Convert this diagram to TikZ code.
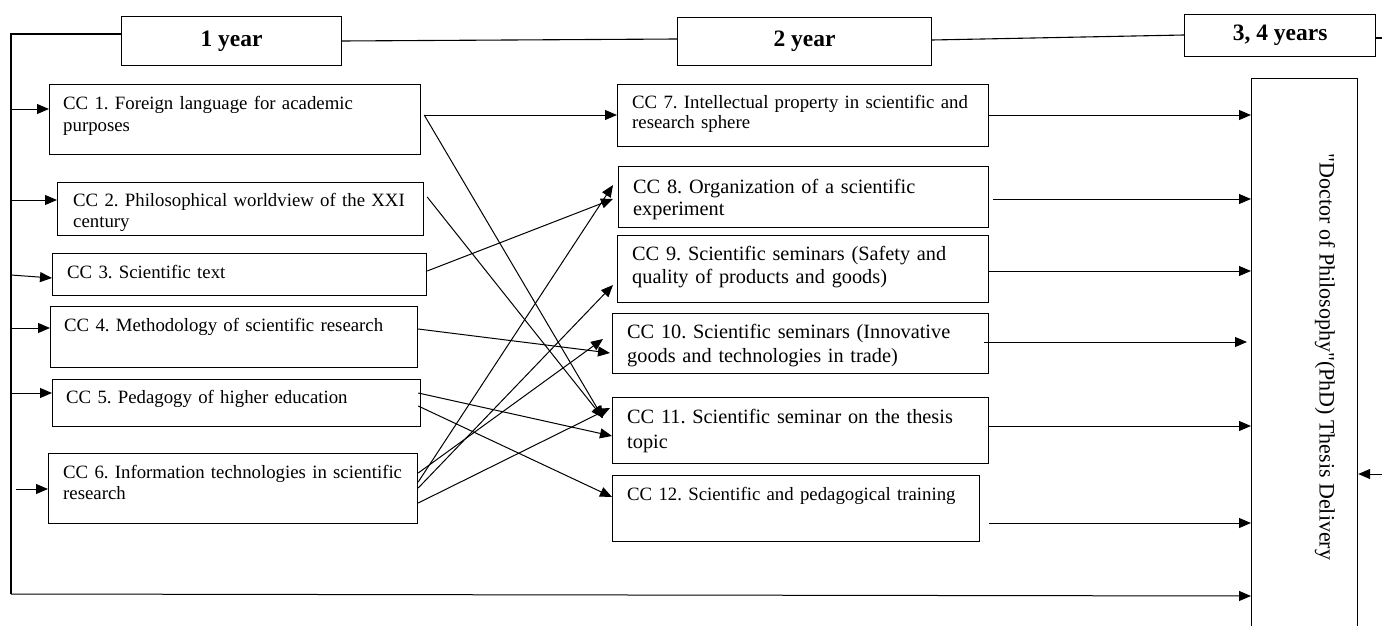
\documentclass[tikz,border=0pt]{standalone}
\usepackage{fontspec}
\setmainfont{Liberation Serif}[Ligatures=TeXOff]
\usetikzlibrary{arrows.meta,calc}
\frenchspacing
\newcommand\fsz[2]{\fontsize{#1}{#2}\selectfont}
\tikzset{
  box/.style={draw, line width=1.2pt, inner sep=0pt, anchor=north west},
  yearbox/.style={draw, line width=1.2pt, inner sep=0pt, anchor=north west, font=\fsz{23.5}{28}\bfseries},
  cc/.style={anchor=base west, inner sep=0pt, text width=365pt, align=left, execute at begin node=\frenchspacing},
  conn/.style={line width=1pt, -{Triangle[length=12pt,width=10pt]}},
  frame/.style={line width=1.1pt},
}
\begin{document}
\begin{tikzpicture}[x=1pt,y=-1pt]
\useasboundingbox (0,0) rectangle (1382,626);
\clip (0,0) rectangle (1382,626);
\fill[white] (0,0) rectangle (1382,626);
% year boxes
\node[yearbox, minimum width=220pt, minimum height=49pt] (y1) at (121,16) {1 year};
\node[yearbox, minimum width=254pt, minimum height=48pt] (y2) at (677,17) {2 year};
\node[yearbox, minimum width=191pt, minimum height=42pt] (y34) at (1184,14) {3, 4 years};
% left boxes
\node[box, minimum width=371pt, minimum height=70pt] (c1) at (49,84) {};
\node[box, minimum width=366pt, minimum height=53pt] (c2) at (57,182) {};
\node[box, minimum width=374pt, minimum height=42pt] (c3) at (52,253) {};
\node[box, minimum width=367pt, minimum height=61pt] (c4) at (50,306) {};
\node[box, minimum width=368pt, minimum height=47pt] (c5) at (52,379) {};
\node[box, minimum width=369pt, minimum height=70pt] (c6) at (48,453) {};
% middle boxes
\node[box, minimum width=371pt, minimum height=62pt] (c7) at (617,84) {};
\node[box, minimum width=370pt, minimum height=61pt] (c8) at (618,166) {};
\node[box, minimum width=371pt, minimum height=67pt] (c9) at (617,235) {};
\node[box, minimum width=376pt, minimum height=60pt] (c10) at (612,313) {};
\node[box, minimum width=376pt, minimum height=66pt] (c11) at (612,397) {};
\node[box, minimum width=367pt, minimum height=66pt] (c12) at (612,475) {};
% final box
\node[box, minimum width=106pt, minimum height=600pt] (phd) at (1251,78) {};
\node[rotate=-90, inner sep=0pt, font=\fsz{22}{26}] (phdt) at (1325,357) {"Doctor of Philosophy"(PhD) Thesis Delivery};
% texts
\node[cc, font=\fsz{18.8}{21}] (t1) at (63,110) {CC 1. Foreign language for academic\\purposes};
\begin{scope}
\clip ($(c2.north west)$) rectangle ($(c2.south east)+(0,-6)$);
\node[cc, font=\fsz{18.8}{21}] (t2) at (73,206) {CC 2. Philosophical worldview of the XXI\\century};
\end{scope}
\node[cc, font=\fsz{18.8}{21}] (t3) at (67,278) {CC 3. Scientific text};
\node[cc, font=\fsz{18.8}{21}] (t4) at (64,331) {CC 4. Methodology of scientific research};
\node[cc, font=\fsz{18.8}{21}] (t5) at (66,403) {CC 5. Pedagogy of higher education};
\node[cc, font=\fsz{18.8}{21}] (t6) at (63,478) {CC 6. Information technologies in scientific\\research};
\node[cc, font=\fsz{18.8}{20}] (t7) at (632,109) {CC 7. Intellectual property in scientific and\\research sphere};
\node[cc, font=\fsz{20.3}{22}] (t8) at (633,193) {CC 8. Organization of a scientific\\experiment};
\node[cc, font=\fsz{20.3}{23}] (t9) at (632,260) {CC 9. Scientific seminars (Safety and\\quality of products and goods)};
\begin{scope}
\clip ($(c10.north west)$) rectangle ($(c10.south east)+(0,-5)$);
\node[cc, font=\fsz{20.3}{24}] (t10) at (627,338) {CC 10. Scientific seminars (Innovative\\goods and technologies in trade)};
\end{scope}
\node[cc, font=\fsz{20.3}{25}] (t11) at (627,423) {CC 11. Scientific seminar on the thesis\\topic};
\node[cc, font=\fsz{18.8}{21}] (t12) at (627,500) {CC 12. Scientific and pedagogical training};
% frame lines
\coordinate (tl) at (11,34);
\coordinate (bl) at (11,594);
\draw[frame] ($(y1.north west)+(0,18)$) -- (tl) -- (bl);
\draw[conn] (bl) -- ($(phd.north west)+(0,518)$);
\draw[frame] ($(y1.north east)+(0,25)$) -- ($(y2.north west)+(0,22)$);
\draw[frame] ($(y2.north east)+(0,23)$) -- ($(y34.north west)+(0,21)$);
\draw[frame] ($(y34.north east)+(0,24)$) -- +(10,0);
\draw[conn] ($(phd.north east)+(30,396)$) -- ($(phd.north east)+(0,396)$);
% left arrows
\draw[conn] ($(c1.north west)+(-38,25)$) -- ($(c1.north west)+(0,25)$);
\draw[conn] ($(c2.north west)+(-46,18)$) -- ($(c2.north west)+(0,18)$);
\draw[conn] ($(c3.north west)+(-41,22)$) -- ($(c3.north west)+(0,25)$);
\draw[conn] ($(c4.north west)+(-39,22)$) -- ($(c4.north west)+(0,22)$);
\draw[conn] ($(c5.north west)+(-41,14)$) -- ($(c5.north west)+(0,14)$);
\draw[conn] ($(c6.north west)+(-32,36)$) -- ($(c6.north west)+(0,36)$);
% cross arrows
\draw[conn] ($(c1.north east)+(3,31)$) -- ($(c7.north west)+(0,31)$);
\draw[conn] ($(c1.north east)+(3,31)$) -- ($(c11.north west)+(-9,21)$);
\draw[conn] ($(c2.north east)+(3,15)$) -- ($(c11.north west)+(-9,21)$);
\draw[conn] ($(c3.north east)+(0,18)$) -- ($(c8.north west)+(-5,33)$);
\draw[conn] ($(c4.north east)+(0,23)$) -- ($(c10.north west)+(-2,40)$);
\draw[conn] ($(c5.north east)+(-3,14)$) -- ($(c11.north west)+(0,39)$);
\draw[conn] ($(c5.north east)+(-3,27)$) -- ($(c12.north west)+(0,22)$);
\draw[conn] ($(c6.north east)+(0,29)$) -- ($(c8.north west)+(-5,19)$);
\draw[conn] ($(c6.north east)+(0,35)$) -- ($(c9.north west)+(-4,50)$);
\draw[conn] ($(c6.north east)+(0,20)$) -- ($(c10.north west)+(-9,26)$);
\draw[conn] ($(c6.north east)+(0,50)$) -- ($(c11.north west)+(-2,11)$);
% right arrows
\draw[conn] ($(c7.north east)+(0,31)$) -- ($(phd.north west)+(0,37)$);
\draw[conn] ($(c8.north east)+(4,33)$) -- ($(phd.north west)+(0,121)$);
\draw[conn] ($(c9.north east)+(0,36)$) -- ($(phd.north west)+(0,193)$);
\draw[conn] ($(c10.north east)+(-5,29)$) -- ($(phd.north west)+(-4,264)$);
\draw[conn] ($(c11.north east)+(0,29)$) -- ($(phd.north west)+(0,348)$);
\draw[conn] ($(c12.north east)+(9,48)$) -- ($(phd.north west)+(0,445)$);
\end{tikzpicture}
\end{document}
